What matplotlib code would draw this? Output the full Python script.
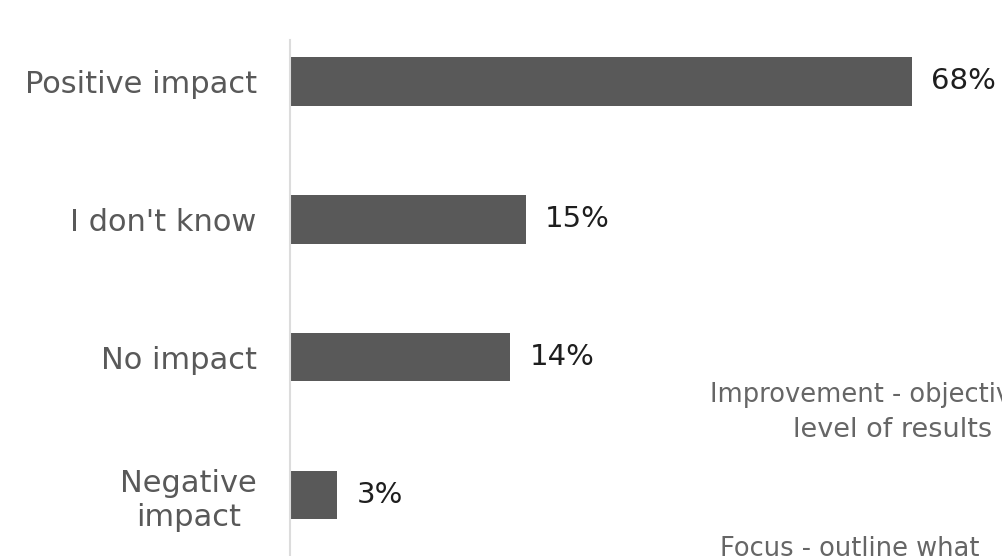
import matplotlib
matplotlib.use("Agg")
import matplotlib.pyplot as plt

categories = ["Positive impact", "I don't know", "No impact", "Negative\nimpact"]
values = [68, 15, 14, 3]
value_labels = ["68%", "15%", "14%", "3%"]

fig = plt.figure(figsize=(10.03, 5.56), dpi=100)
ax = fig.add_axes([290 / 1003, 0.0, 622 / 1003, 1 - 40 / 556])

pos = list(range(len(categories)))
ax.barh(pos, values, height=0.35, color="#595959")

# the long bar runs off the visible scale in the source slide
xmax = 39.6
ax.set_xlim(0, xmax)
ax.set_ylim(3.44, -0.30)

ax.set_yticks(pos)
ax.set_yticklabels(categories, fontsize=22, color="#595959")
for lab in ax.get_yticklabels():
    lab.set_multialignment("center")
    lab.set_linespacing(1.2)
ax.tick_params(axis="y", length=0, pad=24)
ax.set_xticks([])

for s in ["top", "right", "bottom"]:
    ax.spines[s].set_visible(False)
ax.spines["left"].set_color("#dcdcdc")
ax.spines["left"].set_linewidth(1.5)

for p, v, t in zip(pos, values, value_labels):
    ax.annotate(t, xy=(min(v, xmax), p), xytext=(14, 0), textcoords="offset points",
                va="center", ha="left", fontsize=21, color="#1e1e1e",
                annotation_clip=False)

# partly visible side notes from the slide (cut by the right edge as in the source)
fig.text(710 / 1003, 1 - 402 / 556, "Improvement - objective",
         ha="left", va="baseline", fontsize=18.5, color="#666666")
fig.text(793 / 1003, 1 - 437 / 556, "level of results",
         ha="left", va="baseline", fontsize=19.5, color="#666666")
fig.text(720 / 1003, 1 - 536 / 556, "Focus - outline what",
         ha="left", va="top", fontsize=18.5, color="#666666")

fig.savefig("out.png", dpi=100)
